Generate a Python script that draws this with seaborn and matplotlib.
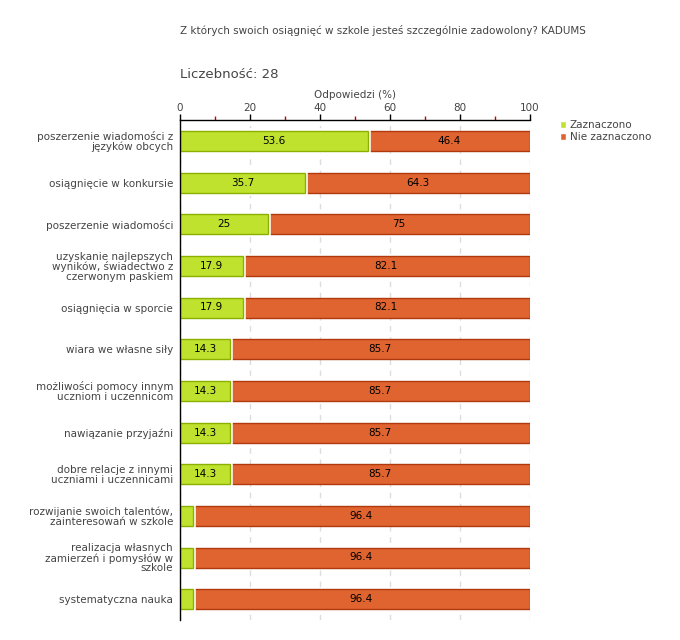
import seaborn as sns
import matplotlib.pyplot as plt
import matplotlib.patheffects as pe
from matplotlib.ticker import MultipleLocator
from matplotlib.patches import Patch
import pandas as pd

# -------------------------------
# Data
# -------------------------------
categories = [
    "poszerzenie wiadomości z\njęzyków obcych",
    "osiągnięcie w konkursie",
    "poszerzenie wiadomości",
    "uzyskanie najlepszych\nwyników, świadectwo z\nczerwonym paskiem",
    "osiągnięcia w sporcie",
    "wiara we własne siły",
    "możliwości pomocy innym\nuczniom i uczennicom",
    "nawiązanie przyjaźni",
    "dobre relacje z innymi\nuczniami i uczennicami",
    "rozwijanie swoich talentów,\nzainteresowań w szkole",
    "realizacja własnych\nzamierzeń i pomysłów w\nszkole",
    "systematyczna nauka",
]
zaznaczono = [53.6, 35.7, 25, 17.9, 17.9, 14.3, 14.3, 14.3, 14.3, 3.6, 3.6, 3.6]
nie_zaznaczono = [46.4, 64.3, 75, 82.1, 82.1, 85.7, 85.7, 85.7, 85.7, 96.4, 96.4, 96.4]

df = pd.DataFrame({"kat": categories, "tak": zaznaczono, "nie": nie_zaznaczono})
df["total"] = df["tak"] + df["nie"]

GREEN, GREEN_EDGE = "#bee22e", "#8cb000"
ORANGE, ORANGE_EDGE = "#e0642f", "#b03a0e"
TXT = "#444444"

sns.set_style("white")
plt.rcParams["font.family"] = ["DejaVu Sans"]

fig = plt.figure(figsize=(6.8, 6.4), dpi=100)
ax = fig.add_axes([180 / 680, 20 / 640, 350 / 680, 500 / 640])

# orange = full bar, green drawn over it (stacked)
sns.barplot(data=df, x="total", y="kat", orient="h", color=ORANGE,
            edgecolor=ORANGE_EDGE, linewidth=1, width=0.48, saturation=1,
            ax=ax, zorder=2)
sns.barplot(data=df, x="tak", y="kat", orient="h", color=GREEN,
            edgecolor=GREEN_EDGE, linewidth=1, width=0.48, saturation=1,
            ax=ax, zorder=3)
for p in ax.patches[len(df):]:
    p.set_path_effects([pe.Stroke(linewidth=4, foreground="white"), pe.Normal()])

# value labels
for i, (t, n) in enumerate(zip(df["tak"], df["nie"])):
    if t >= 10:
        ax.text(t / 2, i, f"{t:g}", ha="center", va="center", fontsize=7.5,
                color="black", zorder=5)
    ax.text(t + n / 2, i, f"{n:g}", ha="center", va="center", fontsize=7.5,
            color="black", zorder=5)

ax.set_xlim(0, 100)
ax.set_ylim(11.5, -0.5)

ax.xaxis.tick_top()
ax.xaxis.set_label_position("top")
ax.set_xticks([0, 20, 40, 60, 80, 100])
ax.xaxis.set_minor_locator(MultipleLocator(10))
ax.tick_params(axis="x", which="major", direction="out", length=4, width=1,
               colors="black", labelcolor=TXT, labelsize=7.5, pad=1)
ax.tick_params(axis="x", which="minor", direction="out", length=3, width=1,
               color="#cc0000")
ax.tick_params(axis="y", direction="out", length=3, width=1, colors="black",
               labelcolor=TXT, labelsize=7.5, pad=2)
for lab in ax.get_yticklabels():
    lab.set_linespacing(0.95)

ax.set_xlabel("Odpowiedzi (%)", fontsize=7.5, color=TXT, labelpad=4)
ax.set_ylabel("")

ax.grid(axis="x", which="major", linestyle=(0, (4, 4)), color="#dddddd",
        linewidth=1, zorder=0)
ax.set_axisbelow(True)

for s in ["right", "bottom"]:
    ax.spines[s].set_visible(False)
for s in ["top", "left"]:
    ax.spines[s].set_color("black")
    ax.spines[s].set_linewidth(1)
    ax.spines[s].set_zorder(10)

# titles
fig.text(180 / 680, 1 - 30 / 640, "Z których swoich osiągnięć w szkole jesteś szczególnie zadowolony? KADUMS",
         fontsize=7.5, color=TXT, va="center", ha="left")
fig.text(180 / 680, 1 - 75 / 640, "Liczebność: 28", fontsize=9.5, color=TXT,
         va="center", ha="left")

# legend
handles = [Patch(facecolor=GREEN, edgecolor="white", label="Zaznaczono"),
           Patch(facecolor=ORANGE, edgecolor="white", label="Nie zaznaczono")]
fig.legend(handles=handles, loc="upper left", bbox_to_anchor=(555 / 680, 1 - 115 / 640),
           frameon=False, fontsize=7.5, handlelength=0.6, handleheight=0.6,
           handletextpad=0.3, labelspacing=0.2, borderpad=0, labelcolor=TXT)

plt.savefig("out.png", dpi=100)
plt.close()
